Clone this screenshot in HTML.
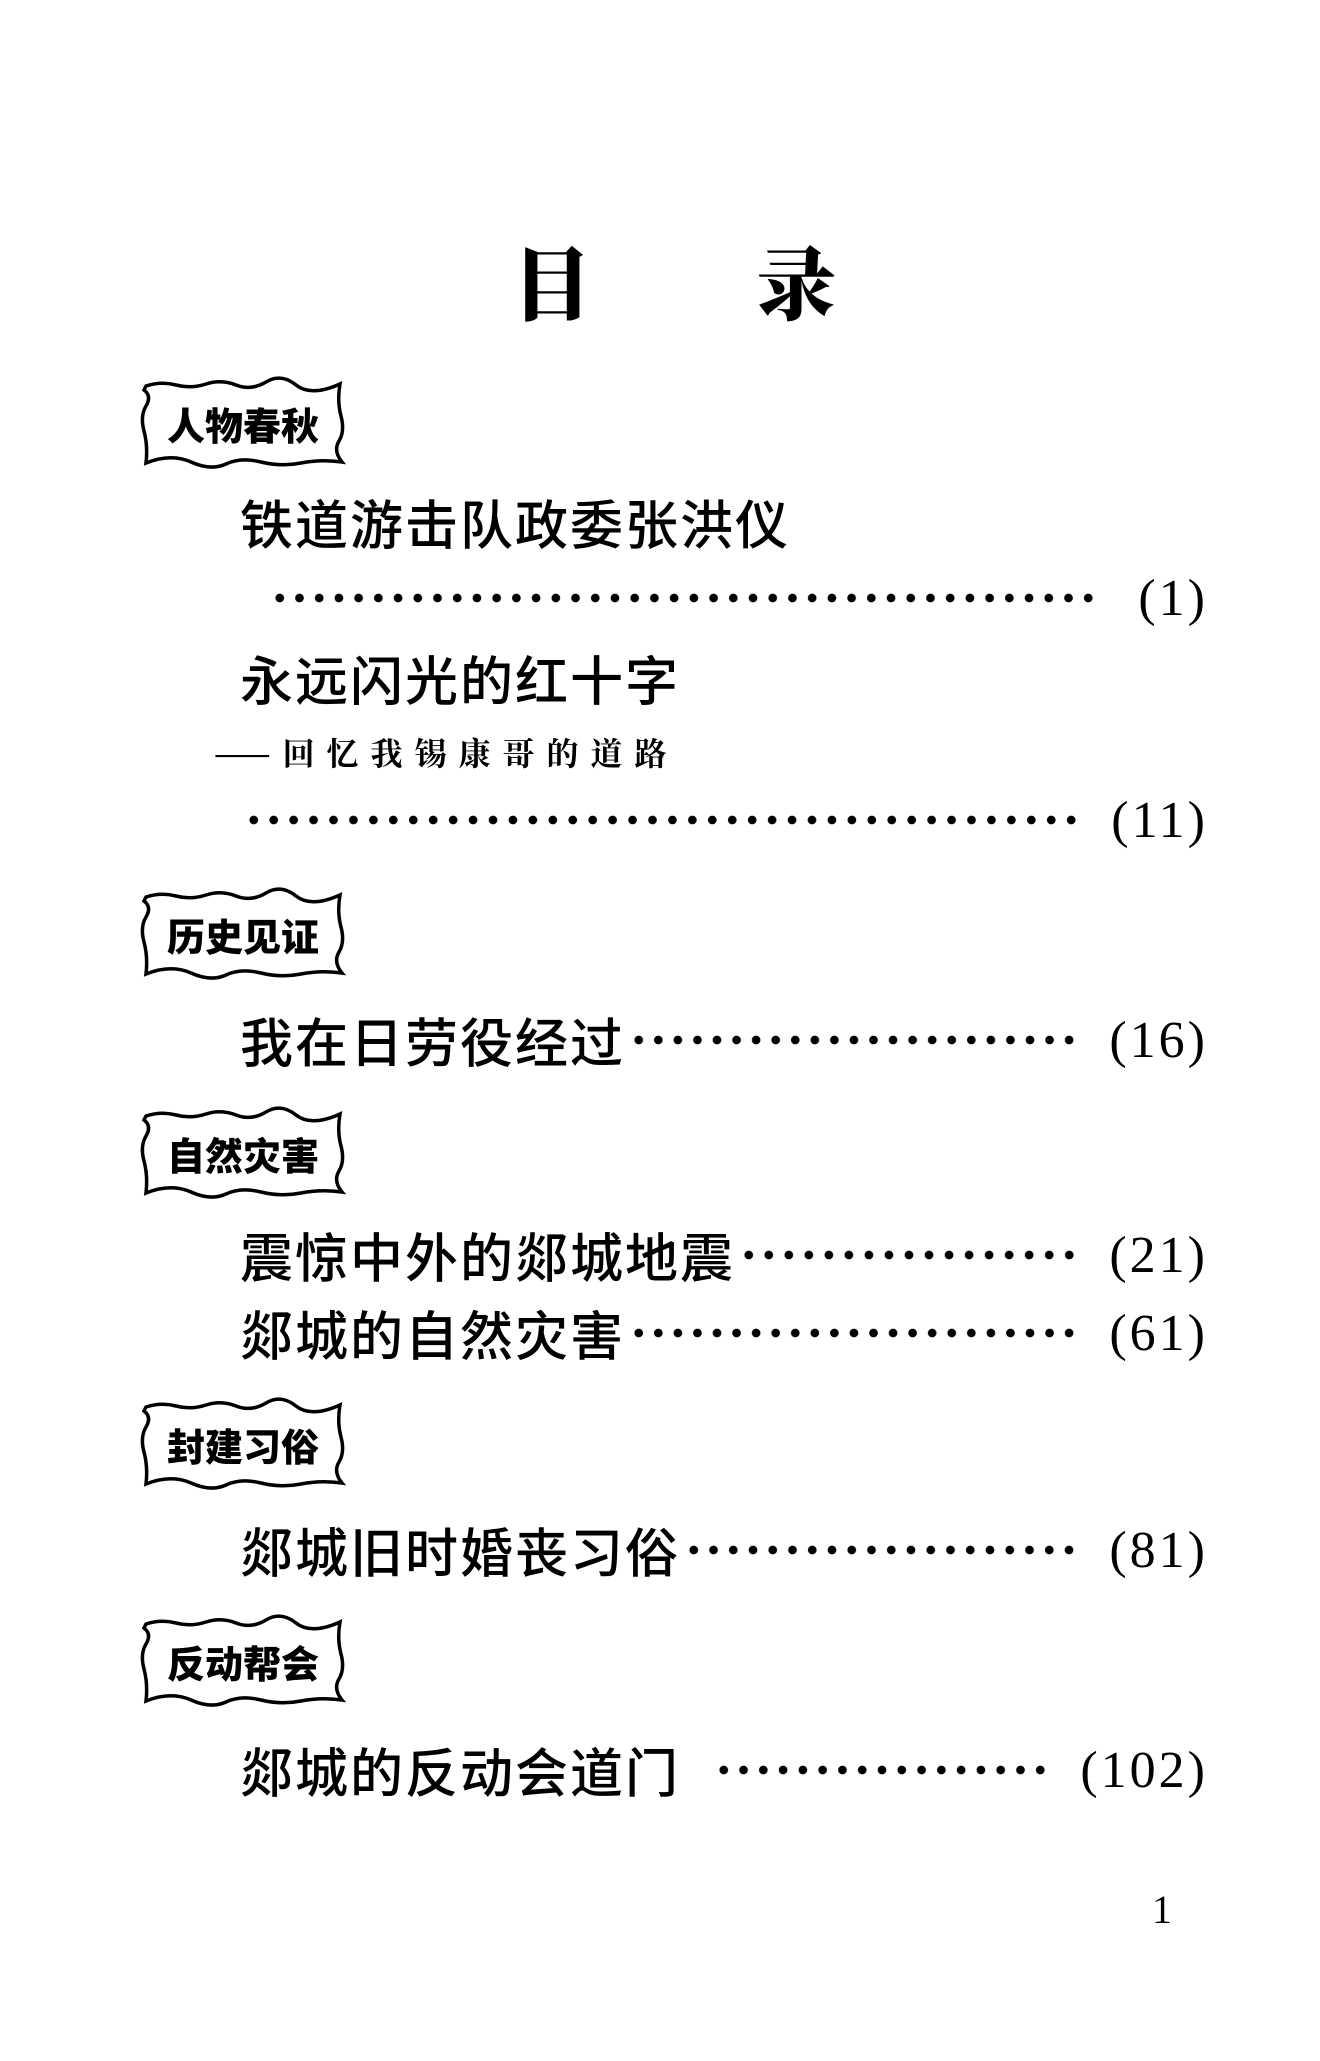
<!DOCTYPE html>
<html><head><meta charset="utf-8"><style>
html,body{margin:0;padding:0;background:#fff;}
body{width:1320px;height:2061px;position:relative;overflow:hidden;font-family:"Liberation Serif","Noto Sans CJK SC",serif;color:#000;}
.t{position:absolute;white-space:nowrap;line-height:1;}
.h{font-family:"Noto Serif CJK SC","Liberation Serif",serif;font-weight:900;font-size:80px;}
.e{font-family:"Liberation Sans","Noto Sans CJK SC",sans-serif;font-size:53px;letter-spacing:2px;font-weight:500;}
.row{position:absolute;left:240px;width:968px;height:60px;display:flex;align-items:center;}
.row .n{font-family:"Liberation Sans","Noto Sans CJK SC",sans-serif;font-size:53px;letter-spacing:2px;white-space:nowrap;font-weight:500;}
.row .d{flex:1;height:14px;background-image:radial-gradient(circle,#000 4px,transparent 4.6px);background-size:19.5px 14px;background-repeat:space no-repeat;background-position:left center;margin:0 30px 0 4px;}
.row .p{font-family:"Liberation Serif",serif;font-size:52px;white-space:nowrap;letter-spacing:3px;}
.box{position:absolute;left:136px;width:214px;height:94px;}
.box svg{position:absolute;left:0;top:0;}
.box span{position:absolute;left:0;right:0;top:0;bottom:0;display:flex;align-items:center;justify-content:center;font-family:"Noto Sans CJK SC",sans-serif;font-weight:900;font-size:38px;}
</style></head><body>
<div class="t h" style="left:512px;top:240px;">目</div>
<div class="t h" style="left:756px;top:240px;">录</div>

<div class="box" style="top:376px;"><svg width="214" height="94"><path d="M10 10 Q25 5 40 9 T70 8 T100 9 T130 6 T160 9 T204 8 Q201 25 205 40 T203 65 T206 86 Q185 83 165 87 T125 86 T90 88 T55 86 T10 87 Q12 70 8 55 T10 30 T8 14 Z" fill="none" stroke="#000" stroke-width="3.5"/></svg><span>人物春秋</span></div>
<div class="box" style="top:887px;"><svg width="214" height="94"><path d="M10 10 Q25 5 40 9 T70 8 T100 9 T130 6 T160 9 T204 8 Q201 25 205 40 T203 65 T206 86 Q185 83 165 87 T125 86 T90 88 T55 86 T10 87 Q12 70 8 55 T10 30 T8 14 Z" fill="none" stroke="#000" stroke-width="3.5"/></svg><span>历史见证</span></div>
<div class="box" style="top:1106px;"><svg width="214" height="94"><path d="M10 10 Q25 5 40 9 T70 8 T100 9 T130 6 T160 9 T204 8 Q201 25 205 40 T203 65 T206 86 Q185 83 165 87 T125 86 T90 88 T55 86 T10 87 Q12 70 8 55 T10 30 T8 14 Z" fill="none" stroke="#000" stroke-width="3.5"/></svg><span>自然灾害</span></div>
<div class="box" style="top:1397px;"><svg width="214" height="94"><path d="M10 10 Q25 5 40 9 T70 8 T100 9 T130 6 T160 9 T204 8 Q201 25 205 40 T203 65 T206 86 Q185 83 165 87 T125 86 T90 88 T55 86 T10 87 Q12 70 8 55 T10 30 T8 14 Z" fill="none" stroke="#000" stroke-width="3.5"/></svg><span>封建习俗</span></div>
<div class="box" style="top:1614px;"><svg width="214" height="94"><path d="M10 10 Q25 5 40 9 T70 8 T100 9 T130 6 T160 9 T204 8 Q201 25 205 40 T203 65 T206 86 Q185 83 165 87 T125 86 T90 88 T55 86 T10 87 Q12 70 8 55 T10 30 T8 14 Z" fill="none" stroke="#000" stroke-width="3.5"/></svg><span>反动帮会</span></div>

<div class="t e" style="left:240px;top:500px;">铁道游击队政委张洪仪</div>
<div class="row" style="top:568px;left:270px;width:938px;"><span class="d" style="margin-left:0;margin-right:40px"></span><span class="p">(1)</span></div>

<div class="t e" style="left:240px;top:656px;">永远闪光的红十字</div>
<div class="t" style="left:214px;top:736px;font-family:'Noto Serif CJK SC',serif;font-weight:700;font-size:32px;letter-spacing:12px;">——回忆我锡康哥的道路</div>
<div class="row" style="top:790px;"><span class="d" style="margin-left:4px"></span><span class="p">(11)</span></div>

<div class="row" style="top:1010px;"><span class="n">我在日劳役经过</span><span class="d"></span><span class="p">(16)</span></div>
<div class="row" style="top:1225px;"><span class="n">震惊中外的郯城地震</span><span class="d"></span><span class="p">(21)</span></div>
<div class="row" style="top:1303px;"><span class="n">郯城的自然灾害</span><span class="d"></span><span class="p">(61)</span></div>
<div class="row" style="top:1520px;"><span class="n">郯城旧时婚丧习俗</span><span class="d"></span><span class="p">(81)</span></div>
<div class="row" style="top:1740px;"><span class="n">郯城的反动会道门</span><span class="d" style="margin-left:34px"></span><span class="p">(102)</span></div>

<div class="t" style="left:1152px;top:1890px;font-size:40px;">1</div>
</body></html>
